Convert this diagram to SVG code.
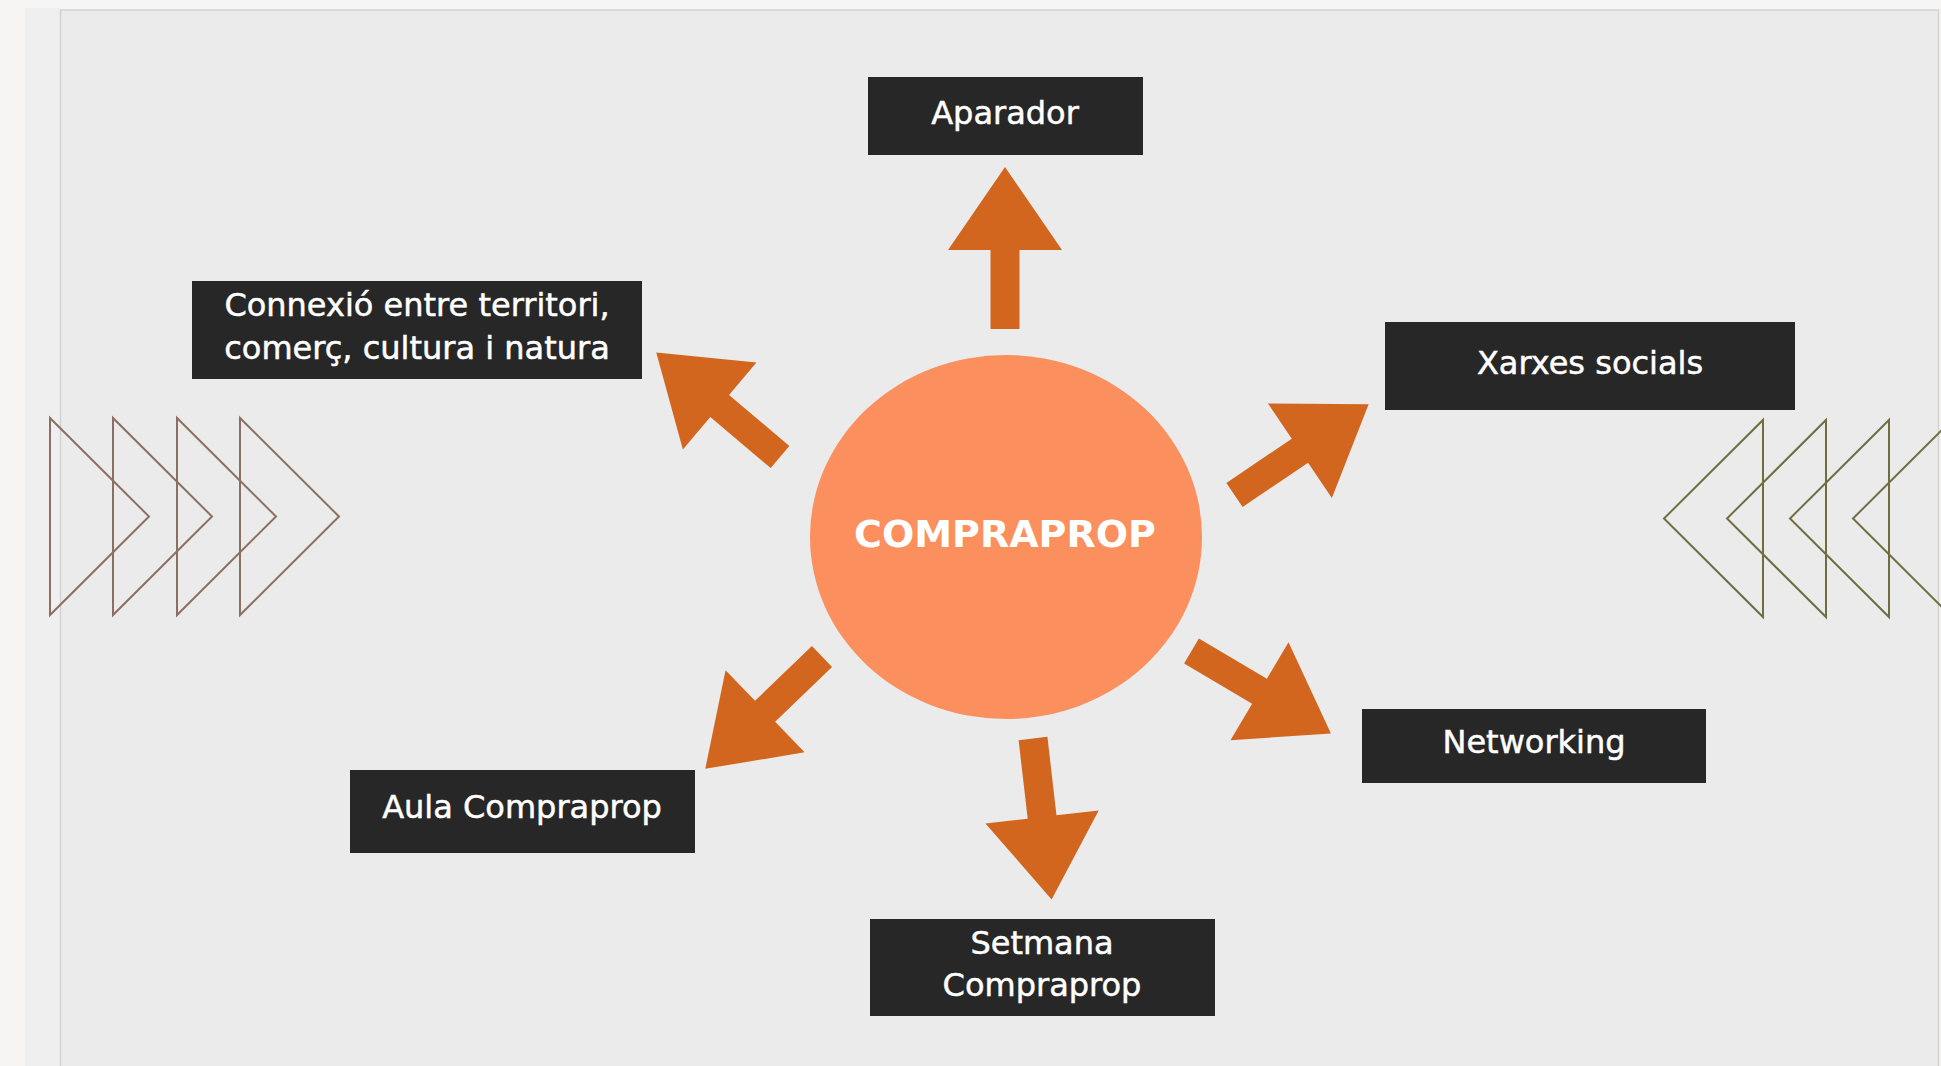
<svg xmlns="http://www.w3.org/2000/svg" xmlns:xlink="http://www.w3.org/1999/xlink" width="1941" height="1066" viewBox="0 0 1941 1066">
  <style>
    .box { fill: #272727; }
    .lbl { fill: #ffffff; stroke: #ffffff; stroke-width: 0.5; font-family: "DejaVu Sans", "Liberation Sans", sans-serif; font-size: 32px; text-anchor: middle; }
    .hub { fill: #fb8f5e; }
    .hubtxt { fill: #ffffff; font-family: "DejaVu Sans", "Liberation Sans", sans-serif; font-size: 38px; font-weight: bold; text-anchor: middle; }
    .arrow { fill: #d2661f; }
    .triL { fill: none; stroke: #8c6f63; stroke-width: 2; }
    .triR { fill: none; stroke: #6f6e40; stroke-width: 2; }
  </style>
  <defs>
    <path id="arr" d="M0,-14.5 H79 V-57 L162,0 L79,57 V14.5 H0 Z"/>
    <path id="tl" d="M0,0 V197 L99,98.5 Z"/>
    <path id="tr" d="M0,0 V197 L-99,98.5 Z"/>
  </defs>

  <!-- background -->
  <rect x="0" y="0" width="1941" height="1066" fill="#f6f5f3"/>
  <rect x="25" y="8" width="36" height="1058" fill="#efefef"/>
  <rect x="60.5" y="10" width="1878" height="1070" fill="#ebebeb" stroke="#d2d2d2" stroke-width="1.5"/>

  <!-- decorative triangles -->
  <g id="deco-left">
    <use xlink:href="#tl" class="triL" transform="translate(50,418)"/>
    <use xlink:href="#tl" class="triL" transform="translate(113,418)"/>
    <use xlink:href="#tl" class="triL" transform="translate(177,418)"/>
    <use xlink:href="#tl" class="triL" transform="translate(240,418)"/>
  </g>
  <g id="deco-right">
    <use xlink:href="#tr" class="triR" transform="translate(1763,420)"/>
    <use xlink:href="#tr" class="triR" transform="translate(1826,420)"/>
    <use xlink:href="#tr" class="triR" transform="translate(1889,420)"/>
    <use xlink:href="#tr" class="triR" transform="translate(1952,420)"/>
  </g>

  <!-- connectors -->
  <g id="connectors">
    <use xlink:href="#arr" class="arrow" transform="translate(1005,329) rotate(-90)"/>
    <use xlink:href="#arr" class="arrow" transform="translate(780,457) rotate(-139.8)"/>
    <use xlink:href="#arr" class="arrow" transform="translate(1234.5,495) rotate(-34.1)"/>
    <use xlink:href="#arr" class="arrow" transform="translate(1191.5,651) rotate(30.6)"/>
    <use xlink:href="#arr" class="arrow" transform="translate(1033,738.5) rotate(83.4)"/>
    <use xlink:href="#arr" class="arrow" transform="translate(822,656.5) rotate(136.1)"/>
  </g>

  <!-- hub -->
  <g id="compraprop">
    <ellipse class="hub" cx="1006" cy="537" rx="196" ry="182"/>
    <text class="hubtxt" x="1005" y="547">COMPRAPROP</text>
  </g>

  <!-- nodes -->
  <g id="aparador">
    <rect class="box" x="868" y="77" width="275" height="78"/>
    <text class="lbl" x="1005" y="124">Aparador</text>
  </g>
  <g id="connexio">
    <rect class="box" x="192" y="281" width="450" height="98"/>
    <text class="lbl" x="417" y="316">Connexió entre territori,</text>
    <text class="lbl" x="417" y="359">comerç, cultura i natura</text>
  </g>
  <g id="xarxes-socials">
    <rect class="box" x="1385" y="322" width="410" height="88"/>
    <text class="lbl" x="1590" y="374">Xarxes socials</text>
  </g>
  <g id="networking">
    <rect class="box" x="1362" y="709" width="344" height="74"/>
    <text class="lbl" x="1534" y="753">Networking</text>
  </g>
  <g id="aula-compraprop">
    <rect class="box" x="350" y="770" width="345" height="83"/>
    <text class="lbl" x="522" y="818">Aula Compraprop</text>
  </g>
  <g id="setmana-compraprop">
    <rect class="box" x="870" y="919" width="345" height="97"/>
    <text class="lbl" x="1042" y="954">Setmana</text>
    <text class="lbl" x="1042" y="996">Compraprop</text>
  </g>
</svg>
